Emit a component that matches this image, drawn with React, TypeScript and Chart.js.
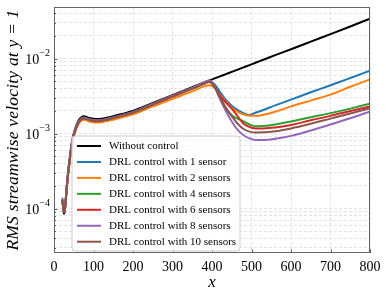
import React, { useEffect, useRef } from "react";
import { Chart, registerables } from "chart.js";
Chart.register(...registerables);

// ---- data ----
const X_EARLY = [21, 23, 25, 27, 30, 33, 36, 40, 45, 50, 55, 60, 65, 70, 75, 80, 90, 100, 110, 125, 150, 175, 200, 250, 300, 350];
const X_LATE = [380, 393, 405, 420, 435, 450, 465, 480, 495, 510, 530, 560, 600, 650, 700, 750, 800];

const noControl = [1.2e-4, 1.05e-4, 8.5e-5, 9.0e-5, 1.4e-4, 2.2e-4, 3.2e-4, 4.8e-4, 7.5e-4, 1.0e-3, 1.22e-3, 1.42e-3, 1.57e-3, 1.66e-3, 1.7e-3, 1.68e-3, 1.61e-3, 1.57e-3, 1.56e-3, 1.59e-3, 1.7e-3, 1.84e-3, 2.0e-3, 2.55e-3, 3.25e-3, 4.15e-3,
  4.8e-3, 5.09e-3, 5.4e-3, 5.78e-3, 6.2e-3, 6.64e-3, 7.12e-3, 7.63e-3, 8.18e-3, 8.78e-3, 9.64e-3, 1.11e-2, 1.33e-2, 1.68e-2, 2.12e-2, 2.68e-2, 3.4e-2];
const sensors1 = [1.35e-4, 1.1e-4, 9e-5, 9.5e-5, 1.35e-4, 2.1e-4, 3.05e-4, 4.55e-4, 7.1e-4, 9.5e-4, 1.16e-3, 1.35e-3, 1.49e-3, 1.58e-3, 1.62e-3, 1.6e-3, 1.53e-3, 1.49e-3, 1.48e-3, 1.52e-3, 1.63e-3, 1.77e-3, 1.93e-3, 2.47e-3, 3.15e-3, 4.0e-3,
  4.75e-3, 5.0e-3, 4.6e-3, 3.6e-3, 2.8e-3, 2.35e-3, 2.05e-3, 1.87e-3, 1.77e-3, 1.89e-3, 2.06e-3, 2.37e-3, 2.83e-3, 3.55e-3, 4.4e-3, 5.5e-3, 6.9e-3];
const sensors2 = [1.3e-4, 1.1e-4, 9e-5, 9.2e-5, 1.3e-4, 2.0e-4, 2.9e-4, 4.3e-4, 6.8e-4, 9.0e-4, 1.1e-3, 1.28e-3, 1.41e-3, 1.5e-3, 1.53e-3, 1.51e-3, 1.45e-3, 1.41e-3, 1.4e-3, 1.43e-3, 1.53e-3, 1.66e-3, 1.8e-3, 2.3e-3, 2.9e-3, 3.65e-3,
  4.25e-3, 4.4e-3, 4.1e-3, 3.3e-3, 2.65e-3, 2.2e-3, 1.95e-3, 1.8e-3, 1.72e-3, 1.72e-3, 1.78e-3, 1.95e-3, 2.3e-3, 2.75e-3, 3.3e-3, 4.2e-3, 5.25e-3];
const sensors4 = [1.3e-4, 1.1e-4, 9e-5, 9.3e-5, 1.33e-4, 2.07e-4, 3.0e-4, 4.5e-4, 7.05e-4, 9.4e-4, 1.15e-3, 1.33e-3, 1.48e-3, 1.56e-3, 1.6e-3, 1.58e-3, 1.51e-3, 1.48e-3, 1.47e-3, 1.5e-3, 1.61e-3, 1.75e-3, 1.9e-3, 2.43e-3, 3.1e-3, 3.95e-3,
  4.6e-3, 4.85e-3, 4.3e-3, 3.1e-3, 2.2e-3, 1.75e-3, 1.58e-3, 1.45e-3, 1.32e-3, 1.25e-3, 1.26e-3, 1.32e-3, 1.45e-3, 1.65e-3, 1.87e-3, 2.15e-3, 2.5e-3];
const sensors6 = [1.3e-4, 1.1e-4, 9e-5, 9.3e-5, 1.33e-4, 2.07e-4, 3.0e-4, 4.5e-4, 7.05e-4, 9.4e-4, 1.15e-3, 1.33e-3, 1.48e-3, 1.56e-3, 1.6e-3, 1.58e-3, 1.51e-3, 1.47e-3, 1.46e-3, 1.5e-3, 1.61e-3, 1.75e-3, 1.91e-3, 2.44e-3, 3.12e-3, 3.98e-3,
  4.65e-3, 4.9e-3, 4.4e-3, 3.2e-3, 2.6e-3, 2.15e-3, 1.7e-3, 1.35e-3, 1.22e-3, 1.17e-3, 1.17e-3, 1.2e-3, 1.3e-3, 1.5e-3, 1.72e-3, 2.0e-3, 2.3e-3];
const sensors8 = [1.4e-4, 1.15e-4, 9.2e-5, 9.6e-5, 1.36e-4, 2.12e-4, 3.08e-4, 4.6e-4, 7.2e-4, 9.6e-4, 1.17e-3, 1.36e-3, 1.51e-3, 1.59e-3, 1.63e-3, 1.61e-3, 1.55e-3, 1.51e-3, 1.5e-3, 1.53e-3, 1.64e-3, 1.78e-3, 1.94e-3, 2.5e-3, 3.2e-3, 4.08e-3,
  4.85e-3, 5.1e-3, 4.4e-3, 2.9e-3, 2.0e-3, 1.45e-3, 1.12e-3, 9.5e-4, 8.6e-4, 8.2e-4, 8.2e-4, 8.5e-4, 9.3e-4, 1.1e-3, 1.32e-3, 1.6e-3, 1.97e-3];
const sensors10 = [1.3e-4, 1.1e-4, 9e-5, 9.3e-5, 1.33e-4, 2.07e-4, 3.0e-4, 4.5e-4, 7.05e-4, 9.4e-4, 1.15e-3, 1.33e-3, 1.47e-3, 1.56e-3, 1.6e-3, 1.58e-3, 1.51e-3, 1.48e-3, 1.47e-3, 1.5e-3, 1.61e-3, 1.76e-3, 1.92e-3, 2.46e-3, 3.15e-3, 4.0e-3,
  4.7e-3, 4.95e-3, 4.3e-3, 3.0e-3, 2.2e-3, 1.7e-3, 1.35e-3, 1.15e-3, 1.06e-3, 1.03e-3, 1.04e-3, 1.07e-3, 1.17e-3, 1.35e-3, 1.58e-3, 1.85e-3, 2.18e-3];

const SERIES_LABELS = [
  "Without control",
  "DRL control with 1 sensor",
  "DRL control with 2 sensors",
  "DRL control with 4 sensors",
  "DRL control with 6 sensors",
  "DRL control with 8 sensors",
  "DRL control with 10 sensors",
];
const SERIES_VALUES = [noControl, sensors1, sensors2, sensors4, sensors6, sensors8, sensors10];
const SERIES_COLORS = ["#000000", "#1f77b4", "#ff7f0e", "#2ca02c", "#d62728", "#9467bd", "#8c564b"];

const X_TICKS = [0, 100, 200, 300, 400, 500, 600, 700, 800];
const Y_MAJOR = [1e-4, 1e-3, 1e-2];
const Y_MAJOR_EXP = ["\u22124", "\u22123", "\u22122"];
const X_MIN = 0, X_MAX = 800, Y_MIN = 2.55e-5, Y_MAX = 4.87e-2;
const X_TITLE = "x";
const Y_TITLE = "RMS streamwise velocity at y = 1";

const SERIF = '"Liberation Serif", "DejaVu Serif", serif';

function buildYTicks() {
  const out: number[] = [];
  for (let e = -5; e <= -1; e++) {
    for (let m = 1; m <= 9; m++) {
      const v = m * Math.pow(10, e);
      if (v >= Y_MIN && v <= Y_MAX) out.push(v);
    }
  }
  return out;
}

const decorPlugin = {
  id: "decor",
  afterDatasetsDraw(chart: any) {
    const { ctx, chartArea: a, scales } = chart;
    const xs = scales.x, ys = scales.y;
    ctx.save();
    ctx.strokeStyle = "#333";
    ctx.lineWidth = 0.8;
    for (const t of ys.ticks) {
      const v = t.value;
      const lg = Math.log10(v);
      const major = Math.abs(lg - Math.round(lg)) < 1e-6;
      const py = Math.round(ys.getPixelForValue(v)) + 0.5;
      ctx.beginPath();
      ctx.moveTo(a.left, py);
      ctx.lineTo(a.left + (major ? 3.5 : 2), py);
      ctx.stroke();
    }
    for (const v of X_TICKS) {
      const px = Math.round(xs.getPixelForValue(v)) + 0.5;
      ctx.beginPath();
      ctx.moveTo(px, a.bottom);
      ctx.lineTo(px, a.bottom - 3.5);
      ctx.stroke();
    }
    ctx.strokeStyle = "#666";
    ctx.lineWidth = 1;
    ctx.strokeRect(Math.round(a.left) + 0.5, Math.round(a.top) + 0.5, Math.round(a.right - a.left) - 1, Math.round(a.bottom - a.top) - 1);
    ctx.restore();
  },
  afterDraw(chart: any) {
    const { ctx, chartArea: a, scales } = chart;
    const xs = scales.x, ys = scales.y;
    ctx.save();
    ctx.fillStyle = "#000";
    ctx.font = `14px ${SERIF}`;
    ctx.textAlign = "center";
    ctx.textBaseline = "alphabetic";
    for (const v of X_TICKS) {
      ctx.fillText(String(v), xs.getPixelForValue(v), a.bottom + 18);
    }
    Y_MAJOR.forEach((v, i) => {
      const py = ys.getPixelForValue(v);
      const exp = Y_MAJOR_EXP[i];
      ctx.font = `10px ${SERIF}`;
      const ew = ctx.measureText(exp).width;
      ctx.font = `14px ${SERIF}`;
      const bw = ctx.measureText("10").width;
      const xr = a.left - 4;
      ctx.textAlign = "left";
      ctx.fillText("10", xr - ew - bw, py + 5);
      ctx.font = `10px ${SERIF}`;
      ctx.fillText(exp, xr - ew, py - 3);
    });
    ctx.font = `italic 17px ${SERIF}`;
    ctx.textAlign = "center";
    ctx.fillText(X_TITLE, (a.left + a.right) / 2, a.bottom + 34);
    ctx.save();
    ctx.font = `italic 17.5px ${SERIF}`;
    (ctx as any).letterSpacing = "0.2px";
    ctx.translate(18, (a.top + a.bottom) / 2);
    ctx.rotate(-Math.PI / 2);
    ctx.fillText(Y_TITLE, 0, 0);
    ctx.restore();
    // legend
    const lx = 72, ly = 136, lw = 168, lh = 115;
    ctx.beginPath();
    const r = 3;
    ctx.moveTo(lx + r, ly);
    ctx.arcTo(lx + lw, ly, lx + lw, ly + lh, r);
    ctx.arcTo(lx + lw, ly + lh, lx, ly + lh, r);
    ctx.arcTo(lx, ly + lh, lx, ly, r);
    ctx.arcTo(lx, ly, lx + lw, ly, r);
    ctx.closePath();
    ctx.fillStyle = "rgba(255,255,255,0.8)";
    ctx.fill();
    ctx.strokeStyle = "#cccccc";
    ctx.lineWidth = 1;
    ctx.stroke();
    ctx.font = `11px ${SERIF}`;
    ctx.textAlign = "left";
    ctx.textBaseline = "middle";
    SERIES_LABELS.forEach((lab, i) => {
      const cy = 146 + i * 15.95;
      ctx.strokeStyle = SERIES_COLORS[i];
      ctx.lineWidth = 2;
      ctx.beginPath();
      ctx.moveTo(77, cy);
      ctx.lineTo(101, cy);
      ctx.stroke();
      ctx.fillStyle = "#000";
      ctx.fillText(lab, 109, cy + 0.5);
    });
    ctx.restore();
  },
};

export default function App() {
  const ref = useRef<HTMLCanvasElement | null>(null);
  useEffect(() => {
    if (!ref.current) return;
    const xsAll = [...X_EARLY, ...X_LATE];
    const datasets = SERIES_VALUES.map((vals, i) => ({
      label: SERIES_LABELS[i],
      data: vals.map((y, j) => ({ x: xsAll[j], y })),
      borderColor: SERIES_COLORS[i],
      backgroundColor: SERIES_COLORS[i],
      borderWidth: 2,
      pointRadius: 0,
      cubicInterpolationMode: "monotone" as const,
      fill: false,
      order: -i,
    }));
    const chart = new Chart(ref.current, {
      type: "line",
      data: { datasets },
      options: {
        animation: false,
        responsive: false,
        devicePixelRatio: 1,
        layout: { padding: { left: 0, right: 16, top: 7, bottom: 0 } },
        plugins: { legend: { display: false }, tooltip: { enabled: false } },
        scales: {
          x: {
            type: "linear",
            min: X_MIN,
            max: X_MAX,
            afterBuildTicks: (s: any) => { s.ticks = X_TICKS.map((v) => ({ value: v })); },
            afterFit: (s: any) => { s.height = 39; },
            ticks: { display: false },
            grid: { color: "#dddddd", lineWidth: 0.8, drawTicks: false },
            border: { display: false, dash: [3, 2] },
          },
          y: {
            type: "logarithmic",
            min: Y_MIN,
            max: Y_MAX,
            afterBuildTicks: (s: any) => { s.ticks = buildYTicks().map((v) => ({ value: v })); },
            afterFit: (s: any) => { s.width = 54; },
            ticks: { display: false },
            grid: { color: "#dddddd", lineWidth: 0.8, drawTicks: false },
            border: { display: false, dash: [3, 2] },
          },
        },
      },
      plugins: [decorPlugin],
    });
    return () => chart.destroy();
  }, []);
  return (
    <div style={{ position: "fixed", left: 0, top: 0, width: 386, height: 292, background: "#fff" }}>
      <canvas ref={ref} width={386} height={292} style={{ width: 386, height: 292, display: "block" }} />
    </div>
  );
}
